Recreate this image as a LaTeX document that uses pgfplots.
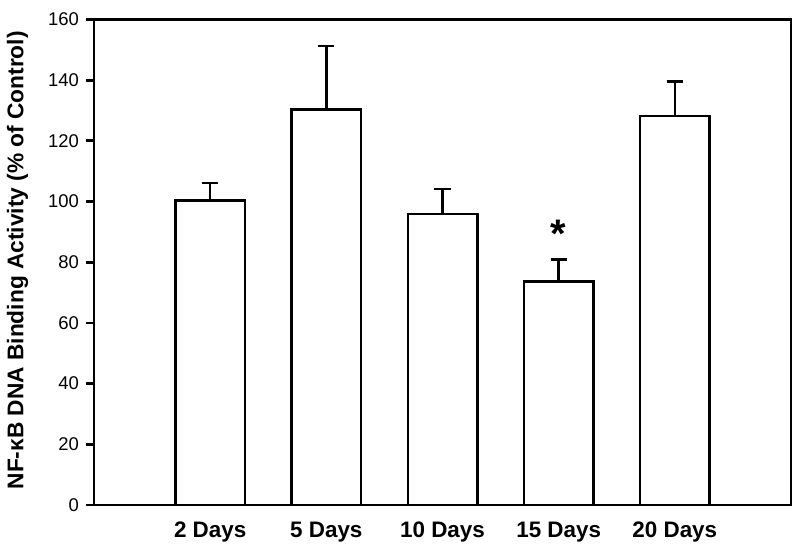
\documentclass[border=0pt]{standalone}
\usepackage{fontspec}
\setmainfont{Liberation Sans}
\usepackage{pgfplots}
\pgfplotsset{compat=1.18}
\usetikzlibrary{calc}
\begin{document}
\begin{tikzpicture}
\begin{axis}[
  name=ax,
  scale only axis,
  width=348.5bp, height=242.75bp,
  xmin=0, xmax=6, ymin=0, ymax=160,
  axis line style={line width=1.4bp},
  xtick={1,2,3,4,5},
  xticklabels={2 Days,5 Days,10 Days,15 Days,20 Days},
  xticklabel style={font=\bfseries\fontsize{11.25}{13}\selectfont, anchor=base, yshift=-12bp},
  major x tick style={draw=none},
  ytick={0,20,...,160},
  ytick pos=left, xtick pos=bottom,
  tick align=outside,
  major tick length=4bp,
  tick style={line width=1.4bp, black},
  yticklabel style={font=\fontsize{9.25}{11}\selectfont},
  /pgf/number format/assume math mode=true,
  ylabel={NF-κB DNA Binding Activity (\% of Control)},
  ylabel style={font=\bfseries\fontsize{11.4}{13}\selectfont, at={(axis description cs:-0.1098,0.504)}, anchor=center},
  ybar, bar width=34.8bp,
  clip=false,
]
\addplot[fill=white, draw=black, line width=1.2bp,
  error bars/.cd, y dir=plus, y explicit,
  error bar style={line width=1.2bp, black},
  error mark options={rotate=90, mark size=4bp, line width=1.2bp, black}]
coordinates {
  (1,100.4) +- (0,5.7)
  (2,130.4) +- (0,20.9)
  (3,95.9)  +- (0,8.3)
  (4,73.6)  +- (0,7.3)
  (5,128.2) +- (0,11.4)
};
\node[font=\bfseries\fontsize{20}{20}\selectfont, anchor=center] at (axis cs:4,89.3) {*};
\end{axis}
\pgfresetboundingbox
\path ($(ax.south west)+(-47bp,-23bp)$) rectangle ($(ax.north east)+(4.5bp,9.75bp)$);
\end{tikzpicture}
\end{document}
